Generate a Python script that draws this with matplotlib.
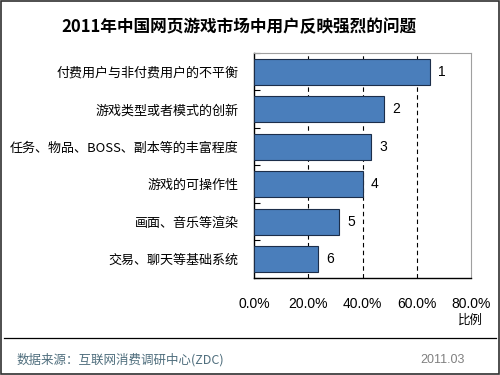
import matplotlib
matplotlib.use('Agg')
import matplotlib.pyplot as plt
import numpy as np

plt.rcParams['font.family'] = ['Noto Sans CJK SC', 'DejaVu Sans']

# Data
categories = ['付费用户与非付费用户的不平衡', '游戏类型或者模式的创新', '任务、物品、BOSS、副本等的丰富程度',
              '游戏的可操作性', '画面、音乐等渲染', '交易、聊天等基础系统']
values = [64.8, 48.0, 43.1, 40.0, 31.2, 23.5]
ranks = ['1', '2', '3', '4', '5', '6']
xticks = [0, 20, 40, 60, 80]
xtick_labels = ['0.0%', '20.0%', '40.0%', '60.0%', '80.0%']

fig = plt.figure(figsize=(5, 3.75), dpi=100)
fig.patch.set_facecolor('white')
ax = fig.add_axes([0.508, 0.2587, 0.434, 0.6]) 

y = np.arange(len(categories))
ax.barh(y, values, height=0.7, color='#4a7ebb', edgecolor='#1c2e4a', linewidth=0.8, zorder=3)
for yi, v, r in zip(y, values, ranks):
    ax.text(v + 4.5, yi, r, va='center', ha='center', fontsize=10, family=['Liberation Sans', 'DejaVu Sans'], zorder=4)

ax.set_xlim(0, 80)
ax.set_ylim(len(categories) - 0.5, -0.5)
for g in xticks[1:-1]:
    ax.axvline(g, color='black', linestyle=(0, (4, 3)), linewidth=0.8, zorder=1)

ax.set_xticks(xticks)
ax.set_xticklabels(xtick_labels, fontsize=10, family=['Liberation Sans', 'DejaVu Sans'])
ax.tick_params(axis='x', length=0, pad=14)
ax.set_yticks(y)
ax.set_yticklabels(categories, fontsize=9.4)
ax.tick_params(axis='y', which='major', length=0, pad=11)
ax.set_yticks(np.arange(-0.5, len(categories), 1), minor=True)
ax.tick_params(axis='y', which='minor', direction='in', length=4, width=0.8)

for s in ['left', 'bottom']:
    ax.spines[s].set_color('black')
    ax.spines[s].set_linewidth(1.0)
for s in ['top', 'right']:
    ax.spines[s].set_color('#a0a0a0')
    ax.spines[s].set_linewidth(0.8)

fig.text(0.478, 0.928, '2011年中国网页游戏市场中用户反映强烈的问题', ha='center', va='center',
         fontsize=12, fontweight='bold')
fig.text(0.94, 0.147, '比例', ha='center', va='center', fontsize=9)

fig.add_artist(plt.Line2D([0.008, 0.992], [0.099, 0.099], color='black', linewidth=0.9))
fig.text(0.034, 0.04, '数据来源：互联网消费调研中心(ZDC)', ha='left', va='center', fontsize=9, color='#4f6e7d')
fig.text(0.93, 0.04, '2011.03', ha='right', va='center', fontsize=9, color='#808080',
         family=['Liberation Sans', 'DejaVu Sans'])

fig.add_artist(plt.Rectangle((0.002, 0.003), 0.996, 0.994, fill=False, edgecolor='#303030', linewidth=1.2))

fig.savefig('out.png', dpi=100)
